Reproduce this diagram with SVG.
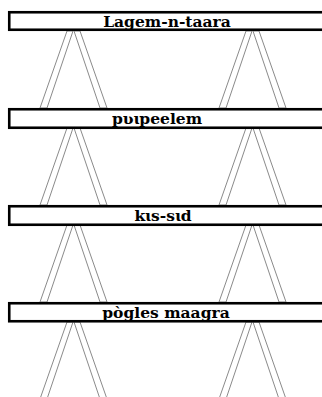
<svg xmlns="http://www.w3.org/2000/svg" xmlns:xlink="http://www.w3.org/1999/xlink" width="322" height="397" viewBox="0 0 322 397">
<style>
.bar{fill:#fff;stroke:#000;stroke-width:2.6}
.leg{fill:#fff;stroke:#8a8a8a;stroke-width:1;stroke-linejoin:round}
.lbl{font-family:"DejaVu Serif","Liberation Serif",serif;font-weight:bold;font-size:15.5px;fill:#000;text-anchor:middle}
</style>
<defs>
<g id="legs">
<polygon class="leg" points="-6,0 0,0 -26,77 -33,77"/>
<polygon class="leg" points="1,0 7,0 34,77 27,77"/>
</g>
</defs>
<rect width="322" height="397" fill="#fff"/>
<g id="connectors">
<use xlink:href="#legs" x="73" y="31"/>
<use xlink:href="#legs" x="252" y="31"/>
<use xlink:href="#legs" x="73" y="128"/>
<use xlink:href="#legs" x="252" y="128"/>
<use xlink:href="#legs" x="73" y="225"/>
<use xlink:href="#legs" x="252" y="225"/>
<use xlink:href="#legs" x="73" y="322"/>
<use xlink:href="#legs" x="252" y="322"/>
</g>
<g id="bar1">
<rect class="bar" x="9.25" y="12.25" width="330" height="17.5"/>
<text class="lbl" x="167" y="26.5">Lagem-n-taara</text>
</g>
<g id="bar2">
<rect class="bar" x="9.25" y="109.25" width="330" height="18.5"/>
<text class="lbl" x="157" y="123.5">pʋɩpeelem</text>
</g>
<g id="bar3">
<rect class="bar" x="9.25" y="206.25" width="330" height="18.5"/>
<text class="lbl" x="163" y="220.5">kɩs-sɩd</text>
</g>
<g id="bar4">
<rect class="bar" x="9.25" y="303.25" width="330" height="18"/>
<text class="lbl" x="166" y="317.5">pògles maagra</text>
</g>
</svg>
